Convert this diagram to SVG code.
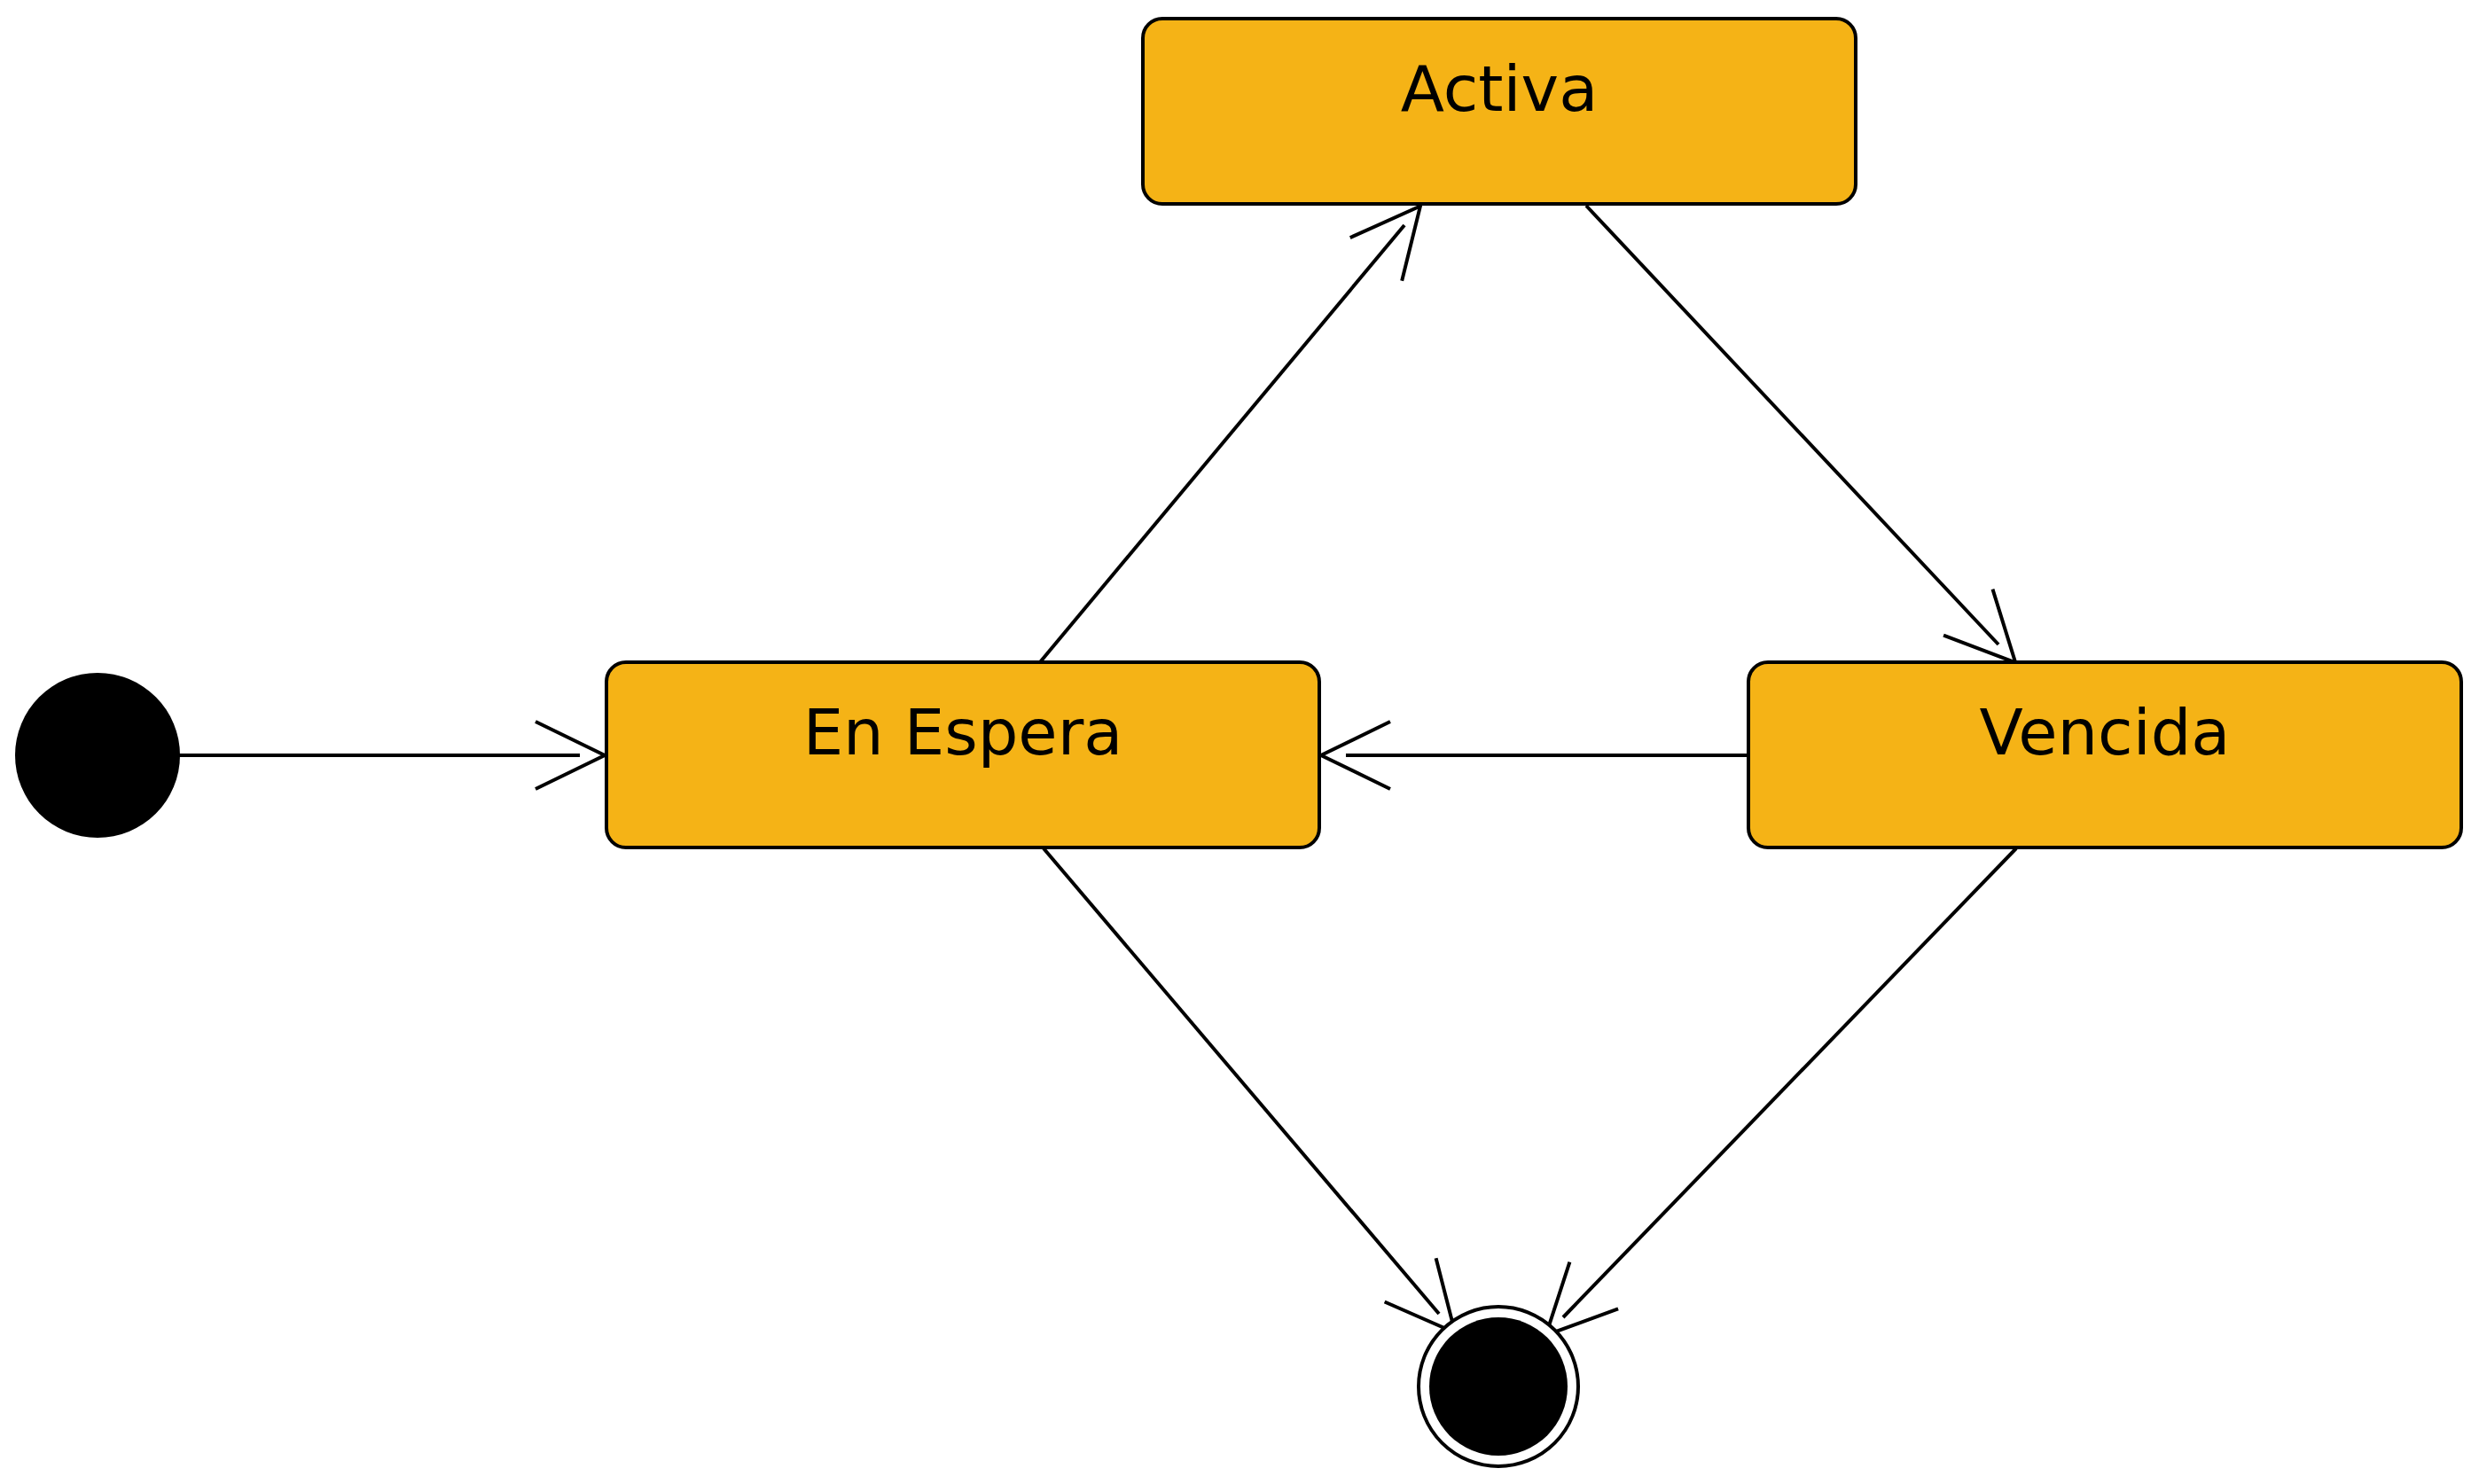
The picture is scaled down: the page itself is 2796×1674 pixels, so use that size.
<svg xmlns="http://www.w3.org/2000/svg" width="2796" height="1674" viewBox="0 0 2796 1674">
<style>
.state{fill:#F5B316;stroke:#000;stroke-width:4}
.label{font-family:"DejaVu Sans",sans-serif;font-size:72px;fill:#000;text-anchor:middle}
.conn{stroke:#000;stroke-width:4;fill:none;marker-end:url(#open)}
</style>
<defs>
<marker id="open" markerUnits="userSpaceOnUse" orient="auto" refX="-28" refY="0" markerWidth="200" markerHeight="200" overflow="visible" viewBox="-100 -100 200 200">
<path d="M -78 -38 L 0 0 L -78 38" fill="none" stroke="#000" stroke-width="4"/>
</marker>
</defs>
<rect width="2796" height="1674" fill="#fff"/>
<g id="connectors">
<line class="conn" x1="202" y1="852" x2="654" y2="852"/>
<line class="conn" x1="1972" y1="852" x2="1518" y2="852"/>
<line class="conn" x1="1173" y1="747" x2="1584" y2="254"/>
<line class="conn" x1="1789" y1="232" x2="2254" y2="727"/>
<line class="conn" x1="1177" y1="957" x2="1623" y2="1482"/>
<line class="conn" x1="2274" y1="957" x2="1763" y2="1486"/>
</g>
<g id="initial">
<circle cx="110" cy="852" r="93" fill="#000"/>
</g>
<g id="activa">
<rect class="state" x="1289" y="21" width="804" height="209" rx="22" ry="22"/>
<text class="label" x="1691" y="125">Activa</text>
</g>
<g id="en-espera">
<rect class="state" x="684" y="747" width="804" height="209" rx="22" ry="22"/>
<text class="label" x="1086" y="851">En Espera</text>
</g>
<g id="vencida">
<rect class="state" x="1972" y="747" width="804" height="209" rx="22" ry="22"/>
<text class="label" x="2374" y="851">Vencida</text>
</g>
<g id="final">
<circle cx="1690" cy="1564" r="90" fill="#fff" stroke="#000" stroke-width="4"/>
<circle cx="1690" cy="1564" r="78" fill="#000"/>
</g>
</svg>
